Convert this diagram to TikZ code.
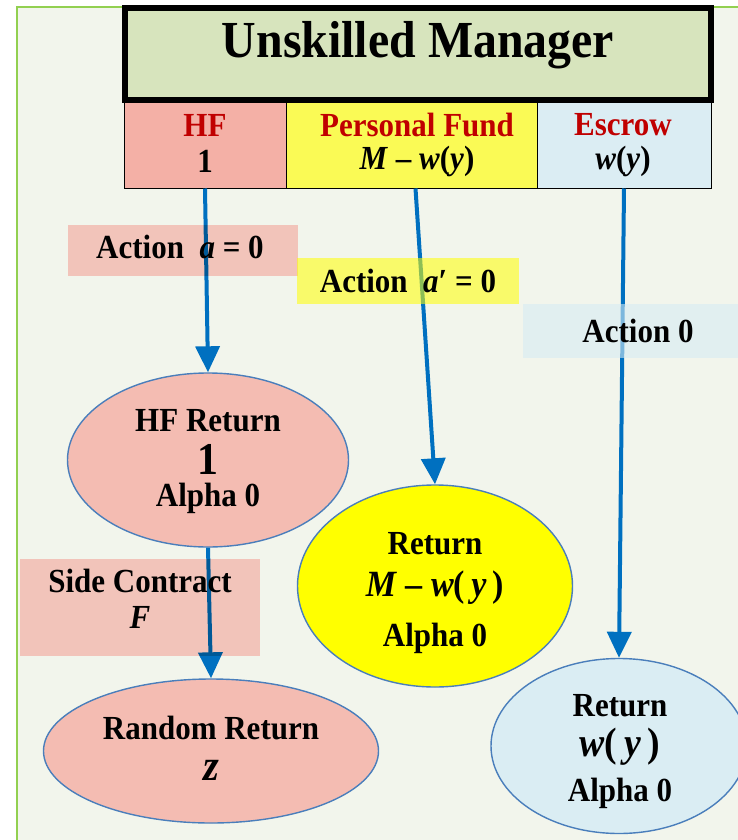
\documentclass[tikz,border=0pt]{standalone}
\usepackage{fontspec}
\setmainfont[FakeStretch=0.92]{Liberation Serif}
\usetikzlibrary{shapes.geometric,arrows.meta}

\definecolor{bgc}{HTML}{F2F5EC}
\definecolor{framegreen}{HTML}{92D050}
\definecolor{titlefill}{HTML}{D7E4BD}
\definecolor{hfcell}{HTML}{F4B0A6}
\definecolor{hfell}{HTML}{F4BCB2}
\definecolor{pfcell}{HTML}{FAFA55}
\definecolor{pfell}{HTML}{FFFF00}
\definecolor{escell}{HTML}{DBEDF3}
\definecolor{esell}{HTML}{DAEDF3}
\definecolor{flowblue}{HTML}{0070C0}
\definecolor{rimblue}{HTML}{4A7EBB}
\definecolor{headred}{HTML}{C00000}
\definecolor{tagsalmon}{HTML}{FFCCC9}
\definecolor{tagyellow}{HTML}{FFFF00}
\definecolor{tagblue}{HTML}{D6EBF3}

\newcommand{\fs}[1]{\fontsize{#1}{#1}\selectfont}

\begin{document}
\begin{tikzpicture}[x=1pt,y=-1pt,
  txt/.style={font=\fs{33.7}\bfseries, inner sep=0pt, align=center},
  head/.style={txt, text=headred},
  cell/.style={draw=black, line width=1pt, minimum height=85pt, inner sep=0pt},
  ret/.style={ellipse, draw=rimblue, line width=1.4pt, inner sep=0pt},
  tag/.style={inner sep=0pt, draw=none},
  flow/.style={flowblue, line width=4pt, -{Triangle[length=26pt,width=24pt]}}
]
\useasboundingbox (0,0) rectangle (738,840);

% page background with green frame
\fill[white] (0,0) rectangle (738,840);
\filldraw[fill=bgc, draw=framegreen, line width=2pt] (17,7) rectangle (760,860);

% title banner
\node[draw=black, line width=6pt, fill=titlefill, minimum width=586pt, minimum height=92pt, inner sep=0pt]
  (title) at (418,54) {};
\node[txt, font=\fs{52}\bfseries] (titletext) at (418,45) {Unskilled Manager};

% the three accounts
\node[cell, fill=hfcell, minimum width=162pt] (hf) at (205,145.5) {};
\node[cell, fill=pfcell, minimum width=251pt] (pf) at (411.5,145.5) {};
\node[cell, fill=escell, minimum width=174pt] (es) at (624,145.5) {};
\node[head] (hfname) at (205,125) {HF};
\node[txt] (hfamt) at (205,161) {1};
\node[head] (pfname) at (417,125) {Personal Fund};
\node[txt] (pfamt) at (417,161) {\textit{M} – \textit{w}(\textit{y})};
\node[head] (esname) at (623,125) {Escrow};
\node[txt] (esamt) at (623,161) {\textit{w}(\textit{y})};

% outcome ellipses
\node[ret, fill=hfell, minimum width=281pt, minimum height=174pt] (hfret) at (208,460) {};
\node[ret, fill=hfell, minimum width=335pt, minimum height=144pt] (rand) at (211,751) {};
\node[ret, fill=pfell, minimum width=275pt, minimum height=202pt] (pfret) at (435,586) {};
\node[ret, fill=esell, minimum width=256pt, minimum height=175pt] (esret) at (619,746) {};

% flows
\draw[flow] (hf.south) -- (hfret.north);
\draw[flow] ([xshift=4pt]pf.south) -- (pfret.north);
\draw[flow] (es.south) -- (esret.north);
\draw[flow] (hfret.south) -- (rand.north);

% action tags, laid over the flows
\node[tag, fill=tagsalmon, blend mode=multiply, minimum width=230pt, minimum height=51pt] (tagA) at (183,250.5) {};
\node[tag, fill=tagyellow, fill opacity=0.55, minimum width=222pt, minimum height=46pt] (tagB) at (408,281) {};
\node[tag, fill=tagblue, fill opacity=0.58, minimum width=222pt, minimum height=54pt] (tagC) at (634,331) {};
\node[tag, fill=tagsalmon, blend mode=multiply, minimum width=240pt, minimum height=97pt] (tagD) at (140,607.5) {};
\node[txt] (actA) at (180,247) {Action\ \ \textit{a} = 0};
\node[txt] (actB) at (408,281) {Action\ \ \textit{a}′ = 0};
\node[txt] (actC) at (638,331) {Action 0};
\node[txt] (side) at (140,581) {Side Contract};
\node[txt] (sideF) at (140,617) {\textit{F}};

% ellipse texts
\node[txt] (hfr1) at (208,421) {HF Return};
\node[txt, font=\fs{45.5}\bfseries] (hfr2) at (208,459) {1};
\node[txt] (hfr3) at (208,498) {Alpha 0};
\node[txt] (rr1) at (211,728) {Random Return};
\node[txt, font=\fs{44}\bfseries] (rr2) at (211,770) {\textit{z}};
\node[txt] (pr1) at (435,544) {Return};
\node[txt, font=\fs{37}\bfseries] (pr2) at (435,588) {\textit{M} – \textit{w}(\,\textit{y}\,)};
\node[txt] (pr3) at (435,638) {Alpha 0};
\node[txt] (er1) at (620,706) {Return};
\node[txt, font=\fs{41}\bfseries] (er2) at (620,747) {\textit{w}(\,\textit{y}\,)};
\node[txt] (er3) at (620,793) {Alpha 0};
\end{tikzpicture}
\end{document}
